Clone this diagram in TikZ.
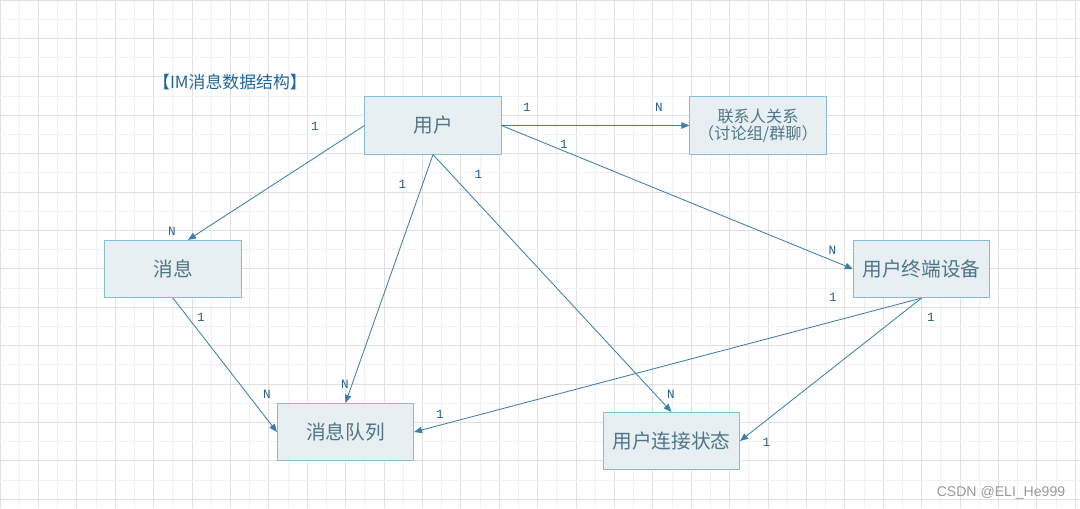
\documentclass[tikz,border=0pt]{standalone}
\usepackage{fontspec}
\setmainfont{Noto Sans CJK SC}
\setmonofont{Liberation Mono}
\newfontfamily\markfont{Liberation Sans}
\usetikzlibrary{arrows.meta,positioning,calc}
\definecolor{boxfill}{RGB}{231,239,243}
\definecolor{boxline}{RGB}{135,188,212}
\definecolor{boxtext}{RGB}{78,118,134}
\definecolor{linkcol}{RGB}{62,126,172}
\definecolor{cardcol}{RGB}{42,96,140}
\definecolor{titlecol}{RGB}{36,102,152}
\definecolor{gridminor}{RGB}{241,241,241}
\definecolor{gridmajor}{RGB}{224,224,224}

\begin{document}
\begin{tikzpicture}[x=0.025cm,y=-0.025cm,
    ent/.style={draw=boxline,line width=0.7pt,fill=boxfill,text=boxtext,
      minimum width=3.4cm,minimum height=1.43cm,inner sep=0pt,
      font=\fontsize{14}{16}\selectfont},
    link/.style={draw=linkcol,line width=0.6pt,-{Triangle[length=2mm,width=1.6mm]}},
    card/.style={text=cardcol,inner sep=0pt,font=\ttfamily\fontsize{9}{10}\selectfont}]
  \useasboundingbox (0,0) rectangle (1080,508);
  \fill[white] (0,0) rectangle (1080,508);
  % grid
  \begin{scope}
    \clip (0,0) rectangle (1080,508);
    \foreach \i in {0,...,28} {
      \draw[gridminor,line width=0.6pt] ({\i*38.4+19.2},0) -- ({\i*38.4+19.2},508);
      \draw[gridmajor,line width=0.6pt] ({\i*38.4},0) -- ({\i*38.4},508);
    }
    \foreach \j in {0,...,13} {
      \draw[gridminor,line width=0.6pt] (0,{\j*38.4+19.2}) -- (1080,{\j*38.4+19.2});
      \draw[gridmajor,line width=0.6pt] (0,{\j*38.4}) -- (1080,{\j*38.4});
    }
  \end{scope}

  \node[text=titlecol,font=\fontsize{12}{14}\selectfont] (title) at (230,82) {【IM消息数据结构】};

  % entities
  \node[ent] (user) at (433,125.5) {用户};
  \node[ent,align=center,font=\fontsize{11.5}{12}\selectfont] (contact) at (758,125.5) {联系人关系\\（讨论组/群聊）};
  \node[ent] (msg) at (173,269) {消息};
  \node[ent] (device) at (921.5,269) {用户终端设备};
  \node[ent] (queue) at (345.5,432) {消息队列};
  \node[ent] (state) at (671.5,441) {用户连接状态};

  % relations
  \draw[link] (user.west) -- ([xshift=0.375cm]msg.north);
  \draw[link] (user.east) -- (contact.west);
  \draw[link] (user.east) -- (device.west);
  \draw[link] (user.south) -- (queue.north);
  \draw[link] (user.south) -- (state.north);
  \draw[link] (msg.south) -- (queue.west);
  \draw[link] (device.south) -- (queue.east);
  \draw[link] (device.south) -- (state.east);

  % cardinalities
  \node[card] (um1) at (315,126) {1};
  \node[card] (umN) at (172,231) {N};
  \node[card] (uc1) at (527,107.5) {1};
  \node[card] (ucN) at (659,107.5) {N};
  \node[card] (ud1) at (564,144.5) {1};
  \node[card] (udN) at (832.5,250.5) {N};
  \node[card] (uq1) at (402.5,184.5) {1};
  \node[card] (uqN) at (345,384.5) {N};
  \node[card] (us1) at (478.5,174.5) {1};
  \node[card] (usN) at (671,394.5) {N};
  \node[card] (mq1) at (201,317.5) {1};
  \node[card] (mqN) at (267,394) {N};
  \node[card] (dq1) at (833,297.5) {1};
  \node[card] (dq2) at (440,414) {1};
  \node[card] (ds1) at (931,317.5) {1};
  \node[card] (ds2) at (766.5,442) {1};

  \node[text=black!40,font=\markfont\fontsize{10}{12}\selectfont] (mark) at (1001,492.5) {CSDN @ELI\_He999};
\end{tikzpicture}
\end{document}
